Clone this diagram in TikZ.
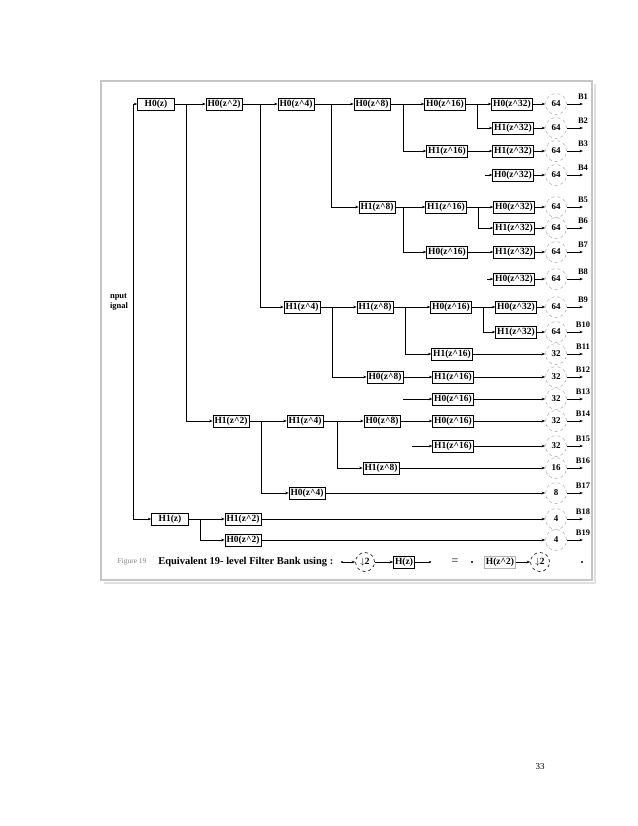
\documentclass[tikz,border=0pt]{standalone}
\usepackage{fontspec}
\setmainfont{Liberation Serif}
\usetikzlibrary{arrows.meta,positioning}
\newcommand{\Hz}[2]{H#1(z\textasciicircum#2)}

\begin{document}
\begin{tikzpicture}[x=1bp,y=-1bp,line width=.6bp,
>={Stealth[length=3.5bp,width=2.6bp]},
filt/.style={draw,line width=.5bp,inner sep=1.6bp,font=\fontsize{9.5}{10}\selectfont\bfseries},
dn/.style={circle,draw=gray!60,dashed,minimum size=21bp,inner sep=0pt,font=\fontsize{9}{10}\selectfont\bfseries},
blab/.style={inner sep=0pt,font=\fontsize{8.5}{9}\selectfont\bfseries}]
\useasboundingbox (0,0) rectangle (638,826);
\fill[white] (0,0) rectangle (638,826);
\draw[gray!25,line width=2.5bp] (104,583) -- (595,583) -- (595,84);
\draw[gray!45,line width=1.5bp] (101,81) rectangle (592,580);

\node[align=left,inner sep=0pt,font=\fontsize{8.5}{9.5}\selectfont\bfseries] (inp) at (119,302) {nput\\ignal};
\coordinate (i1) at (133,104);
\coordinate (i2) at (133,519);

\node[filt,minimum width=37bp] (F1) at (156,104) {H0(z)};
\node[filt] (F2) at (224,104) {\Hz{0}{2}};
\node[filt] (F3) at (296,104) {\Hz{0}{4}};
\node[filt] (F4) at (372,104) {\Hz{0}{8}};
\node[filt] (F5) at (445,104) {\Hz{0}{16}};
\node[filt] (F6) at (512,104) {\Hz{0}{32}};
\node[filt] (F7) at (513,128) {\Hz{1}{32}};
\node[filt] (F8) at (447,151) {\Hz{1}{16}};
\node[filt] (F9) at (513,151) {\Hz{1}{32}};
\node[filt] (F10) at (513,175) {\Hz{0}{32}};
\node[filt] (F11) at (377,207) {\Hz{1}{8}};
\node[filt] (F12) at (446,207) {\Hz{1}{16}};
\node[filt] (F13) at (514,207) {\Hz{0}{32}};
\node[filt] (F14) at (514,228) {\Hz{1}{32}};
\node[filt] (F15) at (447,252) {\Hz{0}{16}};
\node[filt] (F16) at (514,252) {\Hz{1}{32}};
\node[filt] (F17) at (514,279) {\Hz{0}{32}};
\node[filt] (F18) at (302,307) {\Hz{1}{4}};
\node[filt] (F19) at (375,307) {\Hz{1}{8}};
\node[filt] (F20) at (451,307) {\Hz{0}{16}};
\node[filt] (F21) at (516,307) {\Hz{0}{32}};
\node[filt] (F22) at (516,332) {\Hz{1}{32}};
\node[filt] (F23) at (452,354) {\Hz{1}{16}};
\node[filt] (F24) at (385,377) {\Hz{0}{8}};
\node[filt] (F25) at (453,377) {\Hz{1}{16}};
\node[filt] (F26) at (453,399) {\Hz{0}{16}};
\node[filt] (F27) at (231,421) {\Hz{1}{2}};
\node[filt] (F28) at (305,421) {\Hz{1}{4}};
\node[filt] (F29) at (382,421) {\Hz{0}{8}};
\node[filt] (F30) at (453,421) {\Hz{0}{16}};
\node[filt] (F31) at (453,446) {\Hz{1}{16}};
\node[filt] (F32) at (381,468) {\Hz{1}{8}};
\node[filt] (F33) at (307,493) {\Hz{0}{4}};
\node[filt,minimum width=37bp] (F34) at (170,519) {H1(z)};
\node[filt] (F35) at (243,519) {\Hz{1}{2}};
\node[filt] (F36) at (243,540) {\Hz{0}{2}};

\node[dn] (D1) at (556,104) {64};
\node[dn] (D2) at (556,128) {64};
\node[dn] (D3) at (556,151) {64};
\node[dn] (D4) at (556,175) {64};
\node[dn] (D5) at (556,207) {64};
\node[dn] (D6) at (556,228) {64};
\node[dn] (D7) at (556,252) {64};
\node[dn] (D8) at (556,279) {64};
\node[dn] (D9) at (556,307) {64};
\node[dn] (D10) at (556,332) {64};
\node[dn] (D11) at (556,354) {32};
\node[dn] (D12) at (556,377) {32};
\node[dn] (D13) at (556,399) {32};
\node[dn] (D14) at (556,421) {32};
\node[dn] (D15) at (556,446) {32};
\node[dn] (D16) at (556,468) {16};
\node[dn] (D17) at (556,493) {8};
\node[dn] (D18) at (556,519) {4};
\node[dn] (D19) at (556,540) {4};

\coordinate (b1) at (186,104);
\coordinate (b2) at (260,104);
\coordinate (b3) at (331,104);
\coordinate (b4) at (403,104);
\coordinate (b5) at (477,104);
\coordinate (b6) at (478,207);
\coordinate (b7) at (403,207);
\coordinate (b8) at (332,307);
\coordinate (b9) at (405,307);
\coordinate (b10) at (483,307);
\coordinate (b11) at (261,421);
\coordinate (b12) at (337,421);
\coordinate (b13) at (200,519);
\coordinate (s4) at (485,175);
\coordinate (s8) at (487,279);
\coordinate (s13) at (403,399);
\coordinate (s15) at (412,446);

\draw (i1) -- (i2);
\draw[->] (i1) -- (F1);
\draw[->] (i2) -- (F34);
\draw[->] (F1) -- (F2);
\draw[->] (F2) -- (F3);
\draw[->] (F3) -- (F4);
\draw[->] (F4) -- (F5);
\draw[->] (F5) -- (F6);
\draw[->] (b1) |- (F27);
\draw[->] (b2) |- (F18);
\draw[->] (b3) |- (F11);
\draw[->] (b4) |- (F8);
\draw[->] (b5) |- (F7);
\draw[->] (F8) -- (F9);
\draw[->] (s4) -- (F10);
\draw[->] (F11) -- (F12);
\draw[->] (F12) -- (F13);
\draw[->] (b6) |- (F14);
\draw[->] (b7) |- (F15);
\draw[->] (F15) -- (F16);
\draw[->] (s8) -- (F17);
\draw[->] (F18) -- (F19);
\draw[->] (F19) -- (F20);
\draw[->] (F20) -- (F21);
\draw[->] (b10) |- (F22);
\draw[->] (b9) |- (F23);
\draw[->] (b8) |- (F24);
\draw[->] (F24) -- (F25);
\draw[->] (s13) -- (F26);
\draw[->] (F27) -- (F28);
\draw[->] (F28) -- (F29);
\draw[->] (F29) -- (F30);
\draw[->] (s15) -- (F31);
\draw[->] (b12) |- (F32);
\draw[->] (b11) |- (F33);
\draw[->] (F34) -- (F35);
\draw[->] (b13) |- (F36);

\draw[->] (F6) -- (D1);
\draw[->] (F7) -- (D2);
\draw[->] (F9) -- (D3);
\draw[->] (F10) -- (D4);
\draw[->] (F13) -- (D5);
\draw[->] (F14) -- (D6);
\draw[->] (F16) -- (D7);
\draw[->] (F17) -- (D8);
\draw[->] (F21) -- (D9);
\draw[->] (F22) -- (D10);
\draw[->] (F23) -- (D11);
\draw[->] (F25) -- (D12);
\draw[->] (F26) -- (D13);
\draw[->] (F30) -- (D14);
\draw[->] (F31) -- (D15);
\draw[->] (F32) -- (D16);
\draw[->] (F33) -- (D17);
\draw[->] (F35) -- (D18);
\draw[->] (F36) -- (D19);

\draw[->] (D1) -- (583,104) node[blab,above=4bp] {B1};
\draw[->] (D2) -- (583,128) node[blab,above=4bp] {B2};
\draw[->] (D3) -- (583,151) node[blab,above=4bp] {B3};
\draw[->] (D4) -- (583,175) node[blab,above=4bp] {B4};
\draw[->] (D5) -- (583,207) node[blab,above=4bp] {B5};
\draw[->] (D6) -- (583,228) node[blab,above=4bp] {B6};
\draw[->] (D7) -- (583,252) node[blab,above=4bp] {B7};
\draw[->] (D8) -- (583,279) node[blab,above=4bp] {B8};
\draw[->] (D9) -- (583,307) node[blab,above=4bp] {B9};
\draw[->] (D10) -- (583,332) node[blab,above=4bp] {B10};
\draw[->] (D11) -- (583,354) node[blab,above=4bp] {B11};
\draw[->] (D12) -- (583,377) node[blab,above=4bp] {B12};
\draw[->] (D13) -- (583,399) node[blab,above=4bp] {B13};
\draw[->] (D14) -- (583,421) node[blab,above=4bp] {B14};
\draw[->] (D15) -- (583,446) node[blab,above=4bp] {B15};
\draw[->] (D16) -- (583,468) node[blab,above=4bp] {B16};
\draw[->] (D17) -- (583,493) node[blab,above=4bp] {B17};
\draw[->] (D18) -- (583,519) node[blab,above=4bp] {B18};
\draw[->] (D19) -- (583,540) node[blab,above=4bp] {B19};

\node[text=gray,font=\fontsize{7.5}{8}\selectfont] (fig) at (132,562) {Figure 19};
\node[anchor=west,inner sep=0pt,font=\fontsize{10.5}{11}\selectfont\bfseries] (cap) at (158,562) {Equivalent 19- level Filter Bank using :};
\coordinate (c1) at (342,562);
\node[circle,draw,dashed,minimum size=19bp,inner sep=0pt,font=\fontsize{9.5}{10}\selectfont\bfseries] (E1) at (365,562) {$\downarrow$2};
\node[filt] (E2) at (404,562) {H(z)};
\coordinate (c2) at (430,562);
\node[font=\fontsize{12}{13}\selectfont] (eq) at (455,562) {=};
\coordinate (c3) at (472,562);
\node[filt,draw=gray!60] (E3) at (500,562) {\Hz{}{2}};
\node[circle,draw,dashed,minimum size=19bp,inner sep=0pt,font=\fontsize{9.5}{10}\selectfont\bfseries] (E4) at (540,562) {$\downarrow$2};
\coordinate (c4) at (582,562);
\fill (c1) circle (1.2bp) (c2) circle (1.2bp) (c3) circle (1.2bp) (c4) circle (1.2bp);
\draw[->] (c1) -- (E1);
\draw[->] (E1) -- (E2);
\draw (E2) -- (c2);
\draw[->] (E3) -- (E4);

\node[font=\fontsize{9}{10}\selectfont] (pg) at (540,767) {33};
\end{tikzpicture}
\end{document}
